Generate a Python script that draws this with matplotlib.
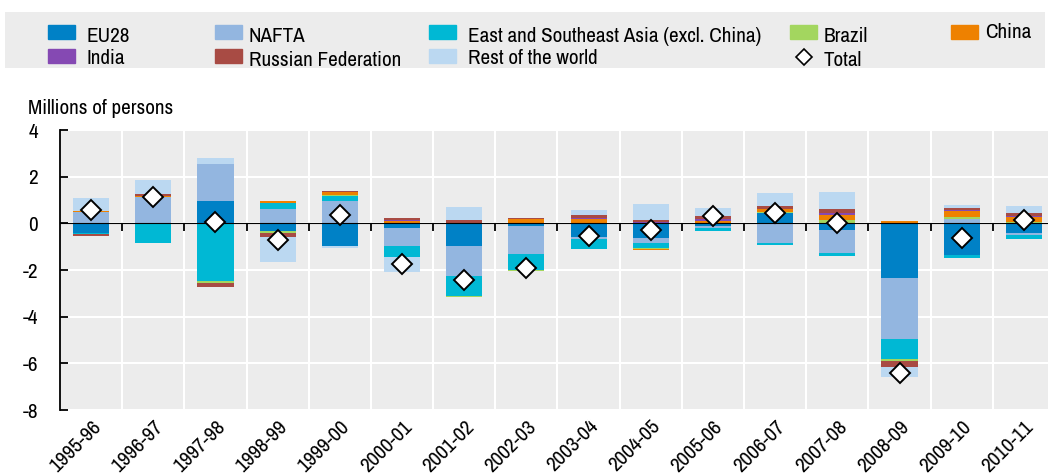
import numpy as np
import matplotlib
matplotlib.use('Agg')
import matplotlib.pyplot as plt
from matplotlib.patches import Rectangle

plt.rcParams['font.family'] = ['Liberation Sans Narrow', 'Archivo Narrow', 'DejaVu Sans']
plt.rcParams['font.size'] = 15.2
plt.rcParams['axes.unicode_minus'] = False

years = ['1995-96', '1996-97', '1997-98', '1998-99', '1999-00', '2000-01', '2001-02', '2002-03',
         '2003-04', '2004-05', '2005-06', '2006-07', '2007-08', '2008-09', '2009-10', '2010-11']

# contributions, millions of persons
eu28   = [-0.43, 0.00, 0.96, -0.33, -0.97, -0.19, -0.97, -0.13, -0.57, -0.64, -0.11, 0.46, -0.30, -2.36, -1.37, -0.41]
nafta  = [0.50, 1.11, 1.60, 0.63, 0.96, -0.79, -1.29, -1.20, -0.10, -0.19, -0.11, -0.86, -0.99, -2.61, 0.18, -0.11]
esa    = [-0.04, -0.83, -2.49, 0.24, 0.21, -0.47, -0.84, -0.66, -0.43, -0.23, -0.10, -0.06, -0.10, -0.86, -0.10, -0.13]
brazil = [0.00, 0.03, -0.05, -0.10, 0.06, 0.00, -0.05, -0.07, 0.00, -0.03, 0.00, 0.04, 0.14, -0.07, 0.08, 0.05]
china  = [0.02, 0.03, 0.00, 0.07, 0.12, 0.10, 0.02, 0.18, 0.20, -0.04, 0.10, 0.10, 0.21, 0.11, 0.26, 0.21]
india  = [0.00, 0.00, 0.00, 0.00, 0.00, 0.03, 0.00, 0.02, 0.05, 0.05, 0.10, 0.00, 0.10, 0.00, 0.04, 0.05]
russia = [-0.06, 0.08, -0.17, -0.15, 0.04, 0.12, 0.12, 0.02, 0.10, 0.08, 0.11, 0.14, 0.17, -0.27, 0.08, 0.13]
row    = [0.56, 0.60, 0.24, -1.06, -0.10, -0.63, 0.56, 0.00, 0.22, 0.69, 0.34, 0.57, 0.74, -0.40, 0.16, 0.31]
total  = [0.57, 1.11, 0.04, -0.71, 0.36, -1.76, -2.44, -1.90, -0.53, -0.29, 0.33, 0.46, 0.03, -6.43, -0.64, 0.14]

names = ['EU28', 'NAFTA', 'East and Southeast Asia (excl. China)', 'Brazil', 'China',
         'India', 'Russian Federation', 'Rest of the world']
series = [eu28, nafta, esa, brazil, china, india, russia, row]
colors = ['#0081C6', '#93B6E0', '#00B8D4', '#A3D65F', '#EE8100', '#8549B3', '#A84B44', '#BBD8F1']
BG = '#ECECEC'

W, H = 1048, 475
fig = plt.figure(figsize=(W / 100, H / 100), dpi=100)

#
# 1. main axes
#
ax = fig.add_axes([60 / W, 1 - 410 / H, (W - 60) / W, 280 / H])
ax.set_facecolor(BG)
x = np.arange(len(years))
pos = np.zeros(len(years))
neg = np.zeros(len(years))
for vals, c in zip(series, colors):
    v = np.array(vals)
    bottom = np.where(v >= 0, pos, neg)
    ax.bar(x, v, 0.58, bottom=bottom, color=c, linewidth=0, zorder=2)
    pos += np.where(v >= 0, v, 0)
    neg += np.where(v < 0, v, 0)

ax.plot(x, total, 'D', markersize=10.5, markerfacecolor='white', markeredgecolor='black',
        markeredgewidth=1.4, zorder=6, clip_on=False)

ax.set_xlim(-0.5, 15.5 - 7 / 62.2)
ax.set_ylim(-8, 4)
ax.set_yticks(np.arange(-8, 5, 2))
ax.set_xticks(x)
ax.set_xticklabels(years, rotation=45, ha='right', va='top', rotation_mode='anchor')
ax.set_xticks(x[:-1] + 0.5, minor=True)
ax.tick_params(axis='x', which='both', length=0, pad=5)
ax.tick_params(axis='y', direction='in', length=6, width=1.3, pad=16)
ax.grid(axis='y', which='major', color='white', lw=1.5, zorder=0)
ax.grid(axis='x', which='minor', color='white', lw=1.5, zorder=0)
ax.set_axisbelow(True)
for s in ['top', 'right', 'bottom']:
    ax.spines[s].set_visible(False)
ax.spines['left'].set_linewidth(1.3)

# zero line with small ticks between years
zero = ax.secondary_xaxis(8 / 12)
zero.set_xticks(x[:-1] + 0.5)
zero.set_xticklabels([])
zero.tick_params(direction='in', length=6, width=1.3)
zero.spines['bottom'].set_linewidth(1.6)
zero.set_zorder(4)

fig.text(28 / W, 1 - 108 / H, 'Millions of persons', ha='left', va='center')

#
# 2. legend box
#
lax = fig.add_axes([5 / W, 1 - 68 / H, 1040 / W, 56 / H])
lax.set_xlim(5, 1045)
lax.set_ylim(68, 12)
lax.axis('off')
lax.add_patch(Rectangle((5, 12), 1040, 56, color=BG, zorder=0))
px = [48, 215, 429, 790, 951, 48, 215, 429]
py = [25, 25, 25, 25, 25, 49, 49, 49]
ty = [37, 37, 36, 37, 32, 59, 61, 58]
tx = [86, 249, 468, 824, 985, 86, 249, 468]
for i in range(len(names)):
    lax.add_patch(Rectangle((px[i], py[i]), 27, 14, color=colors[i], zorder=1))
    lax.text(tx[i], ty[i], names[i], ha='left', va='center')
lax.plot([804], [57], 'D', markersize=8, markerfacecolor='white', markeredgecolor='black',
         markeredgewidth=1.2)
lax.text(824, 60, 'Total', ha='left', va='center')

plt.savefig('out.png', dpi=100)
plt.close()
